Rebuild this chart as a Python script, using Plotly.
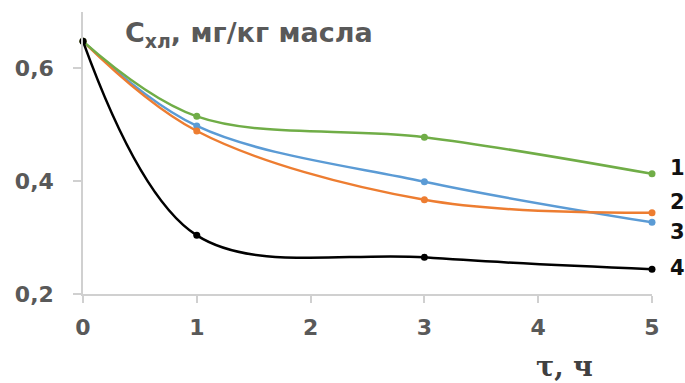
import plotly.graph_objects as go

# ---- data ----
time_h = [0, 1, 3, 5]
series_names = ["1", "2", "3", "4"]
s1_green = [0.648, 0.515, 0.478, 0.413]
s2_orange = [0.648, 0.489, 0.367, 0.344]
s3_blue = [0.648, 0.498, 0.399, 0.327]
s4_black = [0.648, 0.304, 0.265, 0.244]
x_ticks = [0, 1, 2, 3, 4, 5]
y_ticks = [0.2, 0.4, 0.6]
y_tick_labels = ["0,2", "0,4", "0,6"]
title_text = "С<sub>хл</sub>, мг/кг масла"
x_title = "τ, ч"

colors = ["#70AD47", "#ED7D31", "#5B9BD5", "#000000"]
label_yshift = [6, 11, -10, 1]

fig = go.Figure()
all_series = [s1_green, s2_orange, s3_blue, s4_black]
# draw order: blue, orange, green, black
for idx in [2, 1, 0, 3]:
    fig.add_trace(go.Scatter(
        x=time_h, y=all_series[idx], mode="lines+markers",
        line=dict(color=colors[idx], width=2.5, shape="spline", smoothing=1.0),
        marker=dict(color=colors[idx], size=7),
        showlegend=False, cliponaxis=False,
    ))

for idx, name in enumerate(series_names):
    fig.add_annotation(
        x=5, y=all_series[idx][-1], xref="x", yref="y",
        text="<b>" + name + "</b>", showarrow=False,
        xanchor="left", yanchor="middle", xshift=16, yshift=label_yshift[idx],
        font=dict(family="DejaVu Sans", size=21, color="#111111"),
    )

fig.add_annotation(
    x=(123 - 83) / 569, y=(294 - 34) / 282, xref="paper", yref="paper",
    text="<b>" + title_text + "</b>", showarrow=False,
    xanchor="left", yanchor="middle",
    font=dict(family="DejaVu Sans", size=27, color="#595959"),
)
fig.add_annotation(
    x=(564 - 83) / 569, y=(294 - 367) / 282, xref="paper", yref="paper",
    text="<b>" + x_title + "</b>", showarrow=False,
    xanchor="center", yanchor="middle",
    font=dict(family="DejaVu Serif", size=27, color="#404040"),
)

tick_font = dict(family="DejaVu Sans", size=22, color="#595959", weight="bold")

fig.update_layout(
    width=685, height=383,
    margin=dict(l=83, r=33, t=12, b=89, autoexpand=False),
    paper_bgcolor="white", plot_bgcolor="white",
    separators=", ",
    xaxis=dict(
        range=[0, 5], tickmode="array", tickvals=x_ticks,
        ticktext=["<b>" + str(v) + "</b>" for v in x_ticks],
        showgrid=False, zeroline=False, showline=True, linecolor="#d0d0d0", linewidth=1.5,
        ticks="outside", ticklen=7, tickcolor="#d0d0d0", tickwidth=1.5,
        tickfont=tick_font, ticklabelstandoff=6, automargin=False,
    ),
    yaxis=dict(
        range=[0.2, 0.7], tickmode="array", tickvals=y_ticks,
        ticktext=["<b>" + t + "</b>" for t in y_tick_labels],
        showgrid=False, zeroline=False, showline=True, linecolor="#d0d0d0", linewidth=1.5,
        ticks="outside", ticklen=8, tickcolor="#d0d0d0", tickwidth=1.5,
        tickfont=tick_font, ticklabelstandoff=15, automargin=False,
    ),
)

fig.write_html(
    "out.html",
    config={"displayModeBar": False},
    post_script="document.body.style.margin='0';document.body.style.padding='0';",
)
